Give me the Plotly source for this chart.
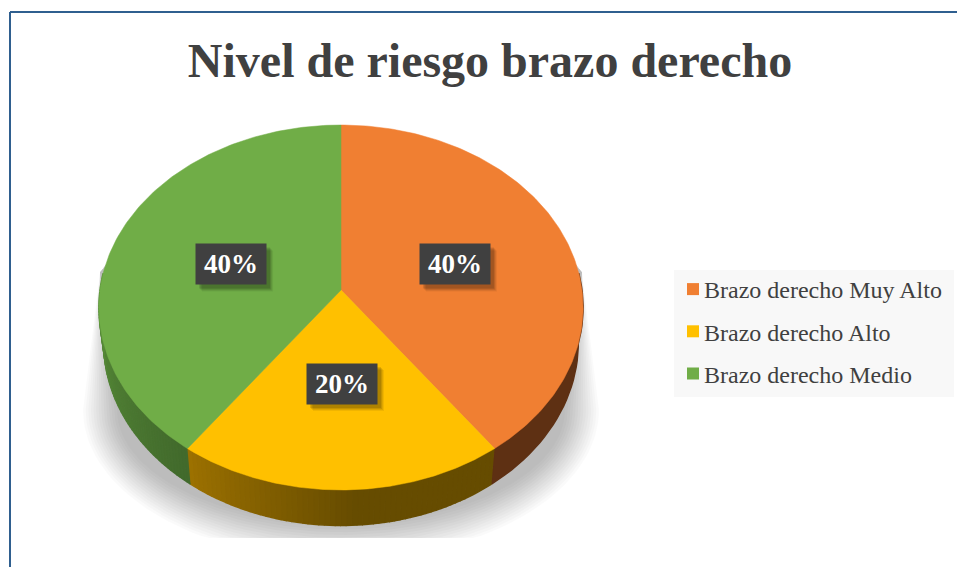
import numpy as np
import plotly.graph_objects as go

# chart data
categories = ["Brazo derecho Muy Alto", "Brazo derecho Alto", "Brazo derecho Medio"]
shares = [40, 20, 40]
labels = ["40%", "20%", "40%"]
title = "Nivel de riesgo brazo derecho"

# colours: top face, side at start of the arc, side at end of the arc
face_colors = ["#F07F32", "#FFC000", "#70AD47"]
side_start = [(94, 48, 19), (102, 76, 0), (66, 106, 44)]
side_end = [(94, 48, 19), (156, 113, 0), (92, 146, 60)]

FONT = "Liberation Serif"
TEXT = "#404040"

# pie geometry in page pixels, perspective tilt of the 3d pie
CX, CY = 341, 290
RX, RY = 241, 180.8
TILT = 0.0959
DEPTH = 35.5
BOTTOM_SCALE = 0.98

# small nudges so the labels sit where the reference has them
LABEL_NUDGE = [(1, 2), (1, -1), (3, 2)]


def project(theta, r=1.0):
    # theta is clockwise from 12 o'clock
    u = r * np.sin(theta)
    v = r * np.cos(theta)
    w = 1 + TILT * v
    return CX + RX * u / w, CY - RY * v / w


def bottom_rim(theta):
    x, y = project(theta)
    return CX + (x - CX) * BOTTOM_SCALE, y + DEPTH


def mix(c1, c2, t):
    return "rgb(%d,%d,%d)" % tuple(a + (b - a) * t for a, b in zip(c1, c2))


fig = go.Figure()

# soft shadow under the pie, stacked translucent layers
for t in np.linspace(0, 1, 14):
    rx = 258 - 34 * t
    ry = 150 - 36 * t
    phi = np.linspace(np.pi, 0, 80)
    sx = CX + rx * np.cos(phi)
    sy = np.minimum(410 + ry * np.sin(phi), 538)
    fig.add_trace(go.Scatter(
        x=np.r_[118, 100, sx, 582, 564], y=np.r_[250, 272, sy, 272, 250],
        mode="lines", fill="toself", fillcolor="rgba(0,0,0,0.021)",
        line=dict(width=0), hoverinfo="skip", showlegend=False
    ))

edges = np.cumsum([0] + shares) / sum(shares) * 2 * np.pi

# side wall, only the front of the rim shows; cut into strips for the gradient
for i in range(len(shares)):
    start = max(edges[i], np.pi * 0.47)
    end = min(edges[i + 1], np.pi * 1.53)
    n = 1 if side_start[i] == side_end[i] else 60
    steps = np.linspace(start, end, n + 1)
    for j in range(n):
        arc = np.linspace(steps[j], steps[j + 1], 30 if n == 1 else 4)
        tx, ty = project(arc)
        bx, by = bottom_rim(arc)
        # yellow goes dark fast, then stays flat
        t = j / max(n - 1, 1)
        if i == 1:
            t = max(0, (t - 0.45) / 0.55)
        c = mix(side_start[i], side_end[i], t)
        fig.add_trace(go.Scatter(
            x=np.r_[tx, bx[::-1]], y=np.r_[ty, by[::-1]],
            mode="lines", fill="toself", fillcolor=c,
            line=dict(width=1.5, color=c), hoverinfo="skip", showlegend=False
        ))

# top faces
for i, name in enumerate(categories):
    arc = np.linspace(edges[i], edges[i + 1], 160)
    ax, ay = project(arc)
    fig.add_trace(go.Scatter(
        x=np.r_[CX, ax, CX], y=np.r_[CY, ay, CY],
        mode="lines", fill="toself", fillcolor=face_colors[i],
        line=dict(width=0.5, color=face_colors[i]),
        name=name, text=labels[i], hoverinfo="name+text", showlegend=False
    ))

# legend entries
for i, name in enumerate(categories):
    fig.add_trace(go.Scatter(
        x=[None], y=[None], mode="markers", name=name, legendgroup=name,
        marker=dict(symbol="square", size=12, color=face_colors[i])
    ))

# data labels with a small drop shadow
for i in range(len(shares)):
    lx, ly = project((edges[i] + edges[i + 1]) / 2, 0.5)
    lx = lx + LABEL_NUDGE[i][0]
    ly = ly + LABEL_NUDGE[i][1]
    for off, alpha in [(7, 0.06), (6, 0.08), (5, 0.1), (4, 0.12)]:
        fig.add_shape(
            type="rect", x0=lx - 35 + off - 1, x1=lx + 35 + off, y0=ly - 20 + off - 1, y1=ly + 20 + off,
            fillcolor="rgba(0,0,0,%s)" % alpha, line_width=0, layer="above"
        )
    fig.add_annotation(
        x=lx, y=ly, text="<b>%s</b>" % labels[i], showarrow=False,
        width=70, height=40, borderpad=0, bgcolor="#404040",
        font=dict(family=FONT, size=27, color="white")
    )

# legend box and chart frame
fig.add_shape(type="rect", x0=674, x1=954, y0=270, y1=397, fillcolor="#F8F8F8", line_width=0, layer="below")
fig.add_shape(type="line", x0=10, x1=10, y0=12, y1=567, line=dict(color="#2F5F8F", width=2))
fig.add_shape(type="line", x0=10, x1=957, y0=12, y1=12, line=dict(color="#2F5F8F", width=2))

fig.update_layout(
    width=957,
    height=567,
    margin=dict(l=0, r=0, t=0, b=0),
    paper_bgcolor="white",
    plot_bgcolor="white",
    title=dict(
        text="<b>%s</b>" % title, x=490 / 957, xanchor="center",
        y=1 - 60 / 567, yanchor="middle",
        font=dict(family=FONT, size=48, color=TEXT)
    ),
    xaxis=dict(range=[0, 957], visible=False, fixedrange=True),
    yaxis=dict(range=[567, 0], visible=False, fixedrange=True),
    legend=dict(
        x=664 / 957, xanchor="left", y=1 - 267 / 567, yanchor="top",
        bgcolor="rgba(0,0,0,0)", tracegroupgap=8,
        font=dict(family=FONT, size=24, color=TEXT)
    ),
    showlegend=True
)

# page margin off, and move the legend swatches next to their text
post = """
document.body.style.margin = '0';
document.querySelectorAll('.legendsymbols').forEach(function (s) {
    s.setAttribute('transform', 'translate(9,0)');
});
"""
fig.write_html("out.html", post_script=post, config=dict(displayModeBar=False))
